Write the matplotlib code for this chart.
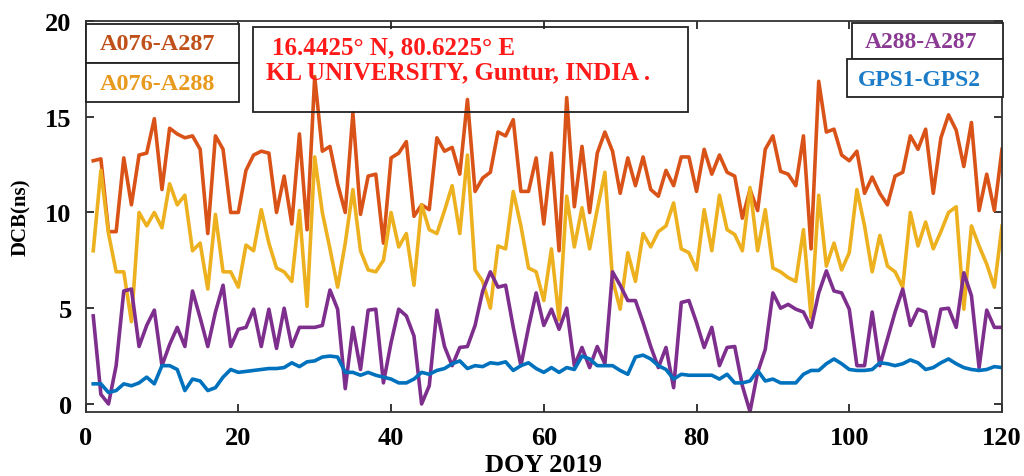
import matplotlib
matplotlib.use("Agg")
import matplotlib.pyplot as plt
from matplotlib.patches import Rectangle

W, H = 1024, 477

days = list(range(1, 121))

a076_a287 = [
    12.7, 12.8, 9.0, 9.0, 12.85, 10.4, 13.0, 13.1, 14.9, 11.2,
    14.4, 14.1, 13.9, 14.0, 13.3, 8.9, 14.0, 13.3, 10.0, 10.0,
    12.2, 13.0, 13.2, 13.1, 10.0, 11.9, 9.4, 14.1, 9.1, 17.1,
    13.2, 13.45, 11.5, 10.0, 15.2, 9.9, 11.9, 12.0, 8.4, 12.85,
    13.1, 13.7, 9.8, 10.4, 10.15, 13.9, 13.2, 13.4, 12.0, 15.9,
    11.1, 11.8, 12.1, 14.2, 14.0, 14.85, 11.1, 11.1, 12.85, 9.4,
    13.1, 8.0, 16.0, 10.3, 13.45, 10.0, 13.1, 14.2, 13.2, 11.0,
    12.85, 11.4, 12.9, 11.2, 10.85, 12.2, 11.4, 12.9, 12.9, 11.1,
    13.3, 12.0, 13.0, 12.1, 11.9, 9.7, 11.2, 10.1, 13.3, 14.0,
    12.15, 12.0, 11.4, 14.0, 8.1, 16.85, 14.2, 14.35, 13.0, 12.7,
    13.2, 11.0, 11.85, 11.0, 10.4, 11.9, 12.1, 14.0, 13.3, 14.35,
    11.0, 13.9, 15.1, 14.3, 12.4, 14.7, 10.1, 12.0, 10.1, 13.3,
]

a076_a288 = [
    8.0, 12.2, 8.9, 6.9, 6.9, 4.3, 10.0, 9.3, 10.0, 9.2,
    11.5, 10.4, 10.9, 8.0, 8.4, 6.0, 9.9, 6.9, 6.9, 6.1,
    8.3, 8.0, 10.15, 8.4, 7.1, 6.9, 6.4, 10.1, 5.1, 12.9,
    10.0, 8.1, 6.1, 8.4, 11.2, 8.0, 7.0, 6.9, 7.5, 10.0,
    8.2, 8.9, 6.2, 10.4, 9.1, 8.9, 10.1, 11.4, 8.9, 13.0,
    7.0, 6.4, 5.0, 8.25, 8.1, 11.1, 9.3, 7.1, 6.9, 5.4,
    8.1, 4.4, 10.85, 8.2, 10.25, 8.1, 10.15, 12.1, 6.5, 4.95,
    7.9, 6.4, 8.9, 8.2, 9.0, 9.3, 10.5, 8.1, 7.9, 7.0,
    10.15, 8.0, 10.9, 9.1, 8.85, 8.0, 11.3, 8.0, 10.15, 7.1,
    6.9, 6.6, 6.4, 9.1, 4.5, 10.9, 7.2, 8.4, 7.0, 7.9,
    11.2, 9.3, 6.9, 8.8, 7.2, 6.9, 6.1, 10.0, 8.25, 9.5,
    8.1, 9.0, 10.0, 10.3, 4.95, 9.3, 8.25, 7.3, 6.1, 9.3,
]

a288_a287 = [
    4.6, 0.5, 0.0, 2.0, 5.9, 6.0, 3.0, 4.1, 4.9, 2.0,
    3.1, 4.0, 3.0, 5.9, 4.5, 3.0, 4.8, 6.2, 3.0, 3.9,
    4.0, 4.95, 3.0, 4.95, 2.9, 5.0, 3.0, 4.0, 4.0, 4.0,
    4.1, 5.95, 4.95, 0.8, 4.0, 1.8, 4.9, 4.95, 1.1, 3.2,
    4.95, 4.6, 3.55, 0.0, 0.95, 4.9, 3.0, 2.0, 2.95, 3.0,
    4.1, 5.9, 6.9, 6.1, 6.2, 4.0, 2.0, 4.0, 5.8, 4.1,
    4.95, 3.9, 5.0, 2.0, 2.95, 1.9, 3.0, 2.1, 6.9, 6.2,
    5.4, 5.4, 4.25, 3.0, 1.9, 2.95, 0.85, 5.3, 5.4, 4.25,
    2.95, 4.0, 2.0, 2.95, 3.0, 0.95, -0.4, 1.65, 2.85, 5.8,
    5.0, 5.2, 4.95, 4.8, 4.0, 5.8, 6.95, 5.9, 5.8, 4.95,
    2.0, 2.0, 4.8, 2.0, 3.4, 4.8, 6.0, 4.1, 4.95, 4.8,
    3.0, 4.95, 5.0, 4.0, 6.85, 5.65, 1.9, 4.9, 4.0, 4.0,
]

gps1_gps2 = [
    1.05, 1.05, 0.6, 0.7, 1.05, 0.95, 1.1, 1.4, 1.05, 2.0,
    2.0, 1.8, 0.7, 1.3, 1.2, 0.7, 0.85, 1.4, 1.8, 1.65,
    1.7, 1.75, 1.8, 1.85, 1.85, 1.9, 2.15, 1.95, 2.2, 2.25,
    2.45, 2.5, 2.45, 1.65, 1.65, 1.5, 1.65, 1.5, 1.4, 1.3,
    1.1, 1.1, 1.3, 1.65, 1.55, 1.75, 1.85, 2.1, 2.25, 1.85,
    2.0, 1.95, 2.15, 2.1, 2.2, 1.75, 2.0, 2.15, 1.85, 1.65,
    1.9, 1.65, 1.9, 1.8, 2.5, 2.35, 2.0, 2.0, 2.0, 1.75,
    1.55, 2.45, 2.55, 2.35, 2.0, 1.8, 1.3, 1.55, 1.5, 1.5,
    1.5, 1.5, 1.3, 1.55, 1.1, 1.1, 1.2, 1.75, 1.2, 1.3,
    1.1, 1.1, 1.1, 1.55, 1.75, 1.75, 2.1, 2.35, 2.1, 1.8,
    1.75, 1.75, 1.8, 2.15, 2.1, 2.0, 2.1, 2.3, 2.15, 1.8,
    1.9, 2.15, 2.35, 2.1, 1.9, 1.8, 1.75, 1.8, 1.95, 1.9,
]

series = [
    ("A076-A287", a076_a287, "#D95319"),
    ("A076-A288", a076_a288, "#EDB120"),
    ("A288-A287", a288_a287, "#7E2F8E"),
    ("GPS1-GPS2", gps1_gps2, "#0072BD"),
]

SERIF = ["Liberation Serif", "DejaVu Serif"]


def fx(px):
    return px / W


def fy(py):
    return 1 - py / H


def box(fig, x0, y0, x1, y1, face="white", lw=1.3):
    fig.patches.append(Rectangle((fx(x0), fy(y1)), fx(x1) - fx(x0), fy(y0) - fy(y1),
                                 transform=fig.transFigure, facecolor=face,
                                 edgecolor="#222222", linewidth=lw, zorder=5))


def label(fig, px, py, text, color, size=17):
    fig.text(fx(px), fy(py), text, color=color, family=SERIF, fontweight="bold",
             fontsize=size, va="center", ha="left", zorder=7)


fig = plt.figure(figsize=(W / 100, H / 100), dpi=100)
fig.patch.set_facecolor("white")
ax = fig.add_axes([fx(85.6), fy(413), fx(1002) - fx(85.6), fy(22) - fy(413)])

for name, values, color in series:
    ax.plot(days, values, color=color, linewidth=2.6, label=name)

ax.set_xlim(0, 120)
ax.set_ylim(-0.42, 19.95)
ax.set_xticks([0, 20, 40, 60, 80, 100, 120])
ax.set_yticks([0, 5, 10, 15, 20])
ax.tick_params(direction="in", top=True, right=True, length=6, width=1.1, pad=10,
               labelsize=19)
for lab in ax.get_xticklabels() + ax.get_yticklabels():
    lab.set_family(SERIF)
    lab.set_fontweight("bold")
for spine in ax.spines.values():
    spine.set_linewidth(1.3)
    spine.set_color("#333333")

ax.set_xlabel("DOY 2019", family=SERIF, fontweight="bold", fontsize=19, labelpad=3)
ax.set_ylabel("DCB(ns)", family=SERIF, fontweight="bold", fontsize=15, labelpad=10)

# series labels in boxes
box(fig, 86, 25, 239, 64)
box(fig, 86, 64, 239, 103)
label(fig, 100, 44, "A076-A287", "#C0501A", 17.5)
label(fig, 100, 85, "A076-A288", "#E89A1E", 17.5)

box(fig, 852, 24, 1003, 60)
box(fig, 847, 60, 1003, 98)
label(fig, 865, 43, "A288-A287", "#8A3A92")
label(fig, 858, 80, "GPS1-GPS2", "#1C7CC8")

# station box
box(fig, 253, 28, 688, 113, face="none")
label(fig, 272, 48, "16.4425° N, 80.6225° E", "#FF1A1A", 18)
label(fig, 266, 73, "KL UNIVERSITY, Guntur, INDIA .", "#FF1A1A", 18)

fig.savefig("out.png", dpi=100, facecolor="white")
